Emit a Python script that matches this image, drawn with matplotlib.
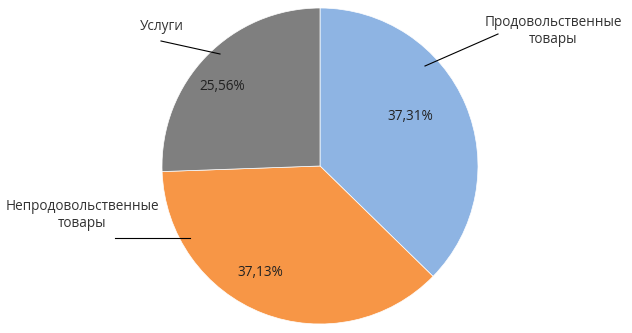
import matplotlib.pyplot as plt

plt.rcParams['font.family'] = ['Open Sans', 'DejaVu Sans']

# Data
categories = ['Продовольственные\nтовары', 'Непродовольственные\nтовары', 'Услуги']
shares = [37.31, 37.13, 25.56]
pct_labels = ['37,31%', '37,13%', '25,56%']
colors = ['#8EB4E3', '#F79646', '#7F7F7F']

W, H = 632, 333
fig = plt.figure(figsize=(W / 100, H / 100), dpi=100)
ax = fig.add_axes([0, 0, 1, 1])

cx, cy, r = 320, H - 166, 158
ax.pie(shares, colors=colors, startangle=90, counterclock=False,
       center=(cx, cy), radius=r, frame=True,
       wedgeprops=dict(edgecolor='white', linewidth=0.5))
ax.set_xlim(0, W)
ax.set_ylim(0, H)
ax.set_aspect('equal')
ax.axis('off')

def Y(y):
    return H - y

# percent labels
pct_pos = [(410, 116), (260, 272), (222, 86)]
for (x, y), t in zip(pct_pos, pct_labels):
    ax.text(x, Y(y), t, ha='center', va='center', fontsize=9.8, color='#222222')

# category labels with leader lines
lab_pos = [(553, 31), (82, 215), (162, 26)]
lines = [((425, 66), (498, 34)), ((115, 238), (190, 238)), ((161, 41), (220, 54))]
for (x, y), t, ((x1, y1), (x2, y2)) in zip(lab_pos, categories, lines):
    ax.text(x, Y(y), t, ha='center', va='center', fontsize=9.8, color='#333333',
            linespacing=1.15)
    ax.plot([x1, x2], [Y(y1), Y(y2)], color='black', linewidth=0.8)

fig.savefig('out.png', dpi=100)
